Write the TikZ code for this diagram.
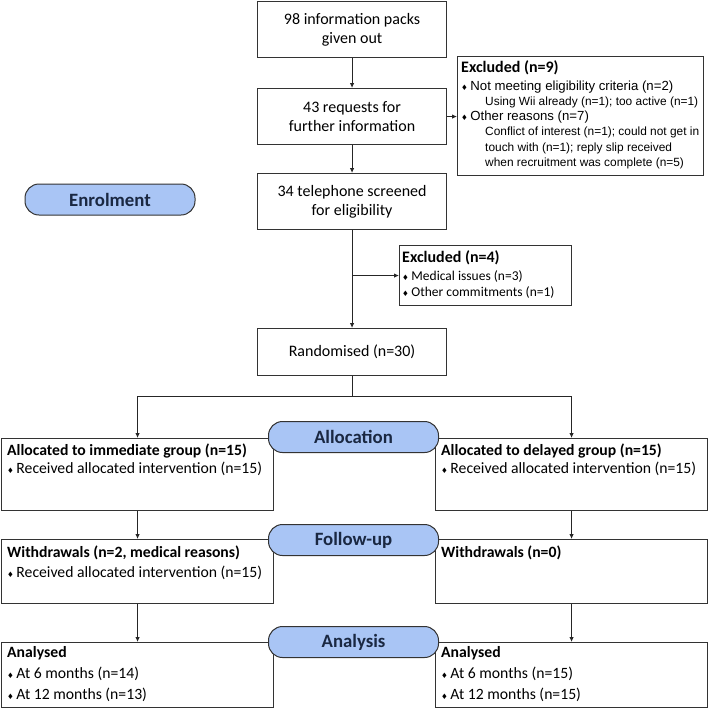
\documentclass[tikz,border=0pt]{standalone}
\usepackage{fontspec}
\setmainfont{Carlito}
\newfontfamily\arialfont{Liberation Sans}
\newfontfamily\symfont{DejaVu Sans}
\usetikzlibrary{arrows.meta}
\definecolor{pillblue}{HTML}{A9C5F5}
\definecolor{pillnavy}{HTML}{1A2842}
\definecolor{boxline}{HTML}{333333}
\newcommand{\bul}{{\symfont\fontsize{7.5}{7.5}\selectfont\char"2666}\hspace{2.5pt}}
\newcommand{\subline}[1]{\hspace*{24pt}{\fontsize{11.9}{15.2}\selectfont #1}}

\tikzset{
	box/.style={draw=boxline, line width=1.1, fill=white, inner sep=0, anchor=north west},
	stagebox/.style={box, align=center, minimum width=189, font=\fontsize{16}{19}\selectfont},
	armbox/.style={box, minimum width=272},
	txt/.style={anchor=north west, align=left, inner sep=0},
	phase/.style={draw=boxline, line width=1, fill=pillblue, rounded corners=14, minimum width=170, minimum height=31, inner sep=0, text=pillnavy, font=\fontsize{18.8}{18.8}\selectfont\bfseries},
	flow/.style={line width=0.9, draw=black!85, -{Latex[length=5,width=4.5]}}
}

\begin{document}
\begin{tikzpicture}[x=1pt, y=-1pt]
	\useasboundingbox (0,0) rectangle (708,707);

	%enrolment column
	\node[stagebox, minimum height=56] (packs) at (257,1) {98 information packs\\given out};
	\node[stagebox, minimum height=56] (requests) at (257,88) {43 requests for\\further information};
	\node[stagebox, minimum height=56] (screened) at (257,173) {34 telephone screened\\for eligibility};
	\node[stagebox, minimum height=47] (random) at (257,328) {Randomised (n=30)};

	%exclusions
	\node[box, minimum width=246, minimum height=119] (excl9) at (457,56) {};
	\node[txt, font=\fontsize{16}{18}\selectfont\bfseries] (excl9t) at (461,60) {Excluded (n=9)};
	\node[txt, font=\arialfont\fontsize{13.2}{15.2}\selectfont] (excl9b) at (461,80.5) {\bul Not meeting eligibility criteria (n=2)\\
		\subline{Using Wii already (n=1); too active (n=1)}\\
		\bul Other reasons (n=7)\\
		\subline{Conflict of interest (n=1); could not get in}\\
		\subline{touch with (n=1); reply slip received}\\
		\subline{when recruitment was complete (n=5)}};

	\node[box, minimum width=172, minimum height=60] (excl4) at (399,245) {};
	\node[txt, font=\fontsize{16}{18}\selectfont\bfseries] (excl4t) at (402,250) {Excluded (n=4)};
	\node[txt, font=\fontsize{13.5}{16}\selectfont] (excl4b) at (402,270) {\bul Medical issues (n=3)\\\bul Other commitments (n=1)};

	%arms
	\node[armbox, minimum height=72] (immed) at (1,438) {};
	\node[armbox, minimum height=72] (delayed) at (435,438) {};
	\node[armbox, minimum height=64] (withdraw1) at (1,539) {};
	\node[armbox, minimum height=64] (withdraw2) at (435,539) {};
	\node[armbox, minimum height=65] (anal1) at (1,642) {};
	\node[armbox, minimum height=65] (anal2) at (435,642) {};

	\node[txt, font=\fontsize{15.7}{18}\selectfont] (immedt) at (7,443.5) {\textbf{Allocated to immediate group (n=15)}\\\bul Received allocated intervention (n=15)};
	\node[txt, font=\fontsize{15.7}{18}\selectfont] (delayedt) at (441,443.5) {\textbf{Allocated to delayed group (n=15)}\\\bul Received allocated intervention (n=15)};
	\node[txt, font=\fontsize{15.7}{20}\selectfont] (withdraw1t) at (7,545.5) {\textbf{Withdrawals (n=2, medical reasons)}\\\bul Received allocated intervention (n=15)};
	\node[txt, font=\fontsize{15.7}{20}\selectfont] (withdraw2t) at (441,545.5) {\textbf{Withdrawals (n=0)}};
	\node[txt, font=\fontsize{15.7}{21}\selectfont] (anal1t) at (7,646) {\textbf{Analysed}\\\bul At 6 months (n=14)\\\bul At 12 months (n=13)};
	\node[txt, font=\fontsize{15.7}{21}\selectfont] (anal2t) at (441,646) {\textbf{Analysed}\\\bul At 6 months (n=15)\\\bul At 12 months (n=15)};

	%connectors
	\draw[flow] (packs) -- (requests);
	\draw[flow] (requests) -- (screened);
	\draw[flow] (requests.east) -- (requests.east -| excl9.west);
	\draw[flow] (screened) -- (random);
	\draw[flow] (screened.south |- excl4.west) -- (excl4.west);
	\draw[flow] (random.south) -- ++(0,20) -| (immed.north);
	\draw[flow] (random.south) ++(0,20) -| (delayed.north);
	\draw[flow] (immed) -- (withdraw1);
	\draw[flow] (delayed) -- (withdraw2);
	\draw[flow] (withdraw1) -- (anal1);
	\draw[flow] (withdraw2) -- (anal2);

	%phase labels
	\node[phase] (enrol) at (110,199.5) {Enrolment};
	\node[phase] (alloc) at (353.5,437) {Allocation};
	\node[phase] (follow) at (353.5,540) {Follow-up};
	\node[phase] (analysis) at (353.5,642) {Analysis};
\end{tikzpicture}
\end{document}
